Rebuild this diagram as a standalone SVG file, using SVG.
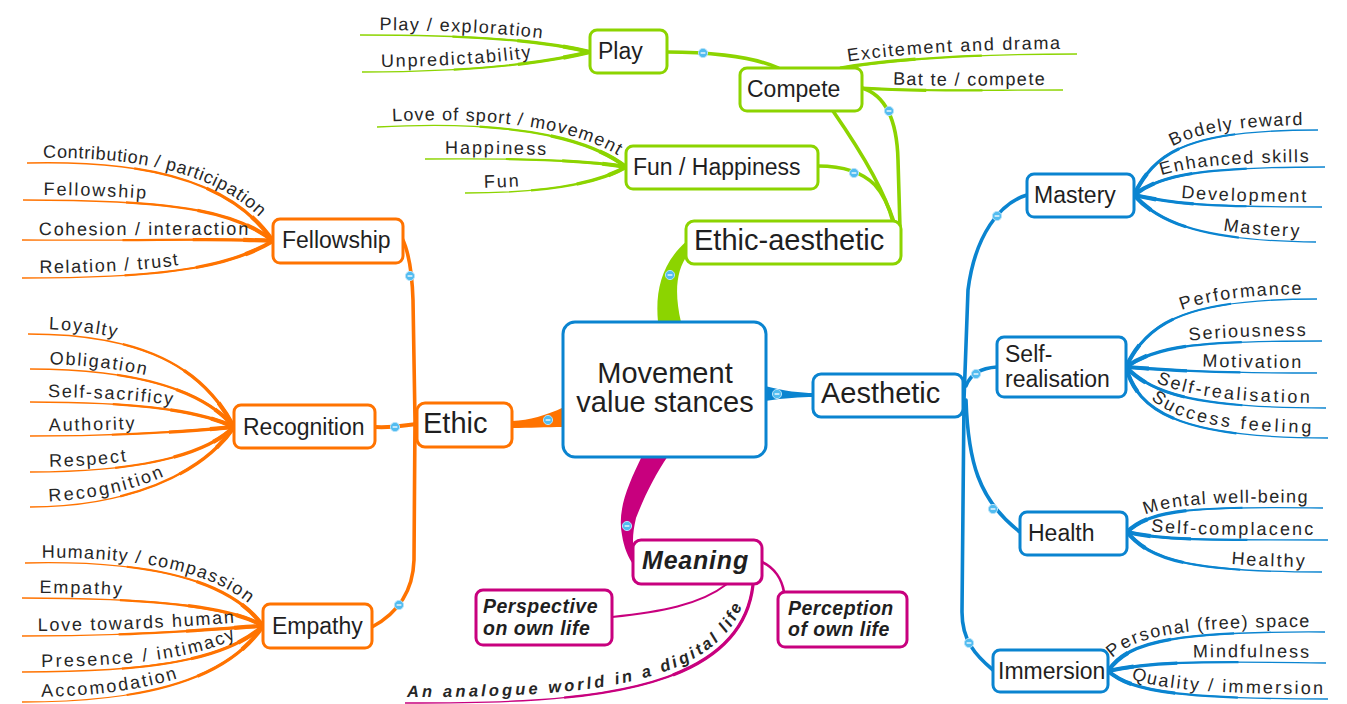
<svg xmlns="http://www.w3.org/2000/svg" xmlns:xlink="http://www.w3.org/1999/xlink" width="1347" height="704" viewBox="0 0 1347 704">
<style>
  text{font-family:"Liberation Sans",Arial,Helvetica,sans-serif;fill:#1f1f1f}
  .lf text{font-size:18px;fill:#262626}
  .n2{font-size:23px}
  .n1{font-size:29px}
  .bi{font-weight:bold;font-style:italic}
  .bx{fill:#fff;stroke-width:3}
  .cg{stroke:#8cd400;fill:none}
  .co{stroke:#ff7300;fill:none}
  .cb{stroke:#0a84d0;fill:none}
  .cm{stroke:#c8007e;fill:none}
  .fg{fill:#8cd400}.fo{fill:#ff7300}.fb{fill:#0a84d0}.fm{fill:#c8007e}
  .t1{stroke-width:1.3}
  .l2{stroke-width:2.2;stroke-dasharray:0 40 60 0}
  .l3{stroke-width:3.2;stroke-dasharray:0 68 32 0}
  .l4{stroke-width:4.2;stroke-dasharray:0 88 12 0}
  .r2{stroke-width:2.2;stroke-dasharray:60 40}
  .r3{stroke-width:3.2;stroke-dasharray:32 68}
  .r4{stroke-width:4.2;stroke-dasharray:12 88}
  .tr{stroke-width:3.6;stroke-linecap:round}
</style>
<defs>
  <!-- leaf branches on the left run from the free end to the parent node -->
  <g id="leaves-green-left">
    <path id="gl1" pathLength="100" d="M360 35 C470 35 540 40 590 52"/>
    <path id="gl2" pathLength="100" d="M362 72 C470 72 540 64 590 52"/>
    <path id="gl3" pathLength="100" d="M377 127 C500 120 585 135 626 167"/>
    <path id="gl4" pathLength="100" d="M425 159 C520 158 585 160 626 167"/>
    <path id="gl5" pathLength="100" d="M465 193 C540 193 595 185 626 167"/>
  </g>
  <!-- leaf branches on the right run from the parent node to the free end -->
  <g id="leaves-green-right">
    <path id="gr1" pathLength="100" d="M840 68 C900 58 980 54 1077 54"/>
    <path id="gr2" pathLength="100" d="M862 88 C920 92 980 90 1063 90"/>
  </g>
  <g id="leaves-orange">
    <path id="ol1" pathLength="100" d="M27 163 C150 160 232 182 273 241"/>
    <path id="ol2" pathLength="100" d="M23 200 C160 200 232 208 273 241"/>
    <path id="ol3" pathLength="100" d="M22 240 C150 241 222 238 273 241"/>
    <path id="ol4" pathLength="100" d="M22 278 C150 278 225 270 273 241"/>
    <path id="ol5" pathLength="100" d="M28 334 C150 334 205 372 234 427"/>
    <path id="ol6" pathLength="100" d="M30 369 C140 369 205 392 234 427"/>
    <path id="ol7" pathLength="100" d="M30 402 C140 402 200 411 234 427"/>
    <path id="ol8" pathLength="100" d="M30 436 C140 436 200 430 234 427"/>
    <path id="ol9" pathLength="100" d="M30 472 C140 472 205 455 234 427"/>
    <path id="ol10" pathLength="100" d="M30 507 C120 507 200 478 234 427"/>
    <path id="ol11" pathLength="100" d="M25 563 C150 560 230 580 263 626"/>
    <path id="ol12" pathLength="100" d="M22 598 C150 598 230 606 263 626"/>
    <path id="ol13" pathLength="100" d="M22 636 C150 636 222 628 263 626"/>
    <path id="ol14" pathLength="100" d="M22 672 C150 672 225 660 263 626"/>
    <path id="ol15" pathLength="100" d="M22 702 C140 702 225 682 263 626"/>
  </g>
  <g id="leaves-blue">
    <path id="br1" pathLength="100" d="M1134 195 C1156 150 1190 130 1318 130"/>
    <path id="br2" pathLength="100" d="M1134 195 C1160 175 1200 167 1325 167"/>
    <path id="br3" pathLength="100" d="M1134 195 C1170 203 1200 207 1322 207"/>
    <path id="br4" pathLength="100" d="M1134 195 C1158 222 1200 241 1316 242"/>
    <path id="br5" pathLength="100" d="M1126 367 C1148 320 1190 299 1317 299"/>
    <path id="br6" pathLength="100" d="M1126 367 C1158 345 1200 341 1322 341"/>
    <path id="br7" pathLength="100" d="M1126 367 C1170 370 1200 373 1317 373"/>
    <path id="br8" pathLength="100" d="M1126 367 C1150 392 1190 408 1326 408"/>
    <path id="br9" pathLength="100" d="M1126 367 C1138 412 1180 438 1328 438"/>
    <path id="br10" pathLength="100" d="M1127 532 C1150 510 1190 506 1323 508"/>
    <path id="br11" pathLength="100" d="M1127 532 C1160 540 1200 540 1328 540"/>
    <path id="br12" pathLength="100" d="M1127 532 C1150 560 1190 572 1322 572"/>
    <path id="br13" pathLength="100" d="M1108 671 C1128 642 1170 631 1325 632"/>
    <path id="br14" pathLength="100" d="M1108 671 C1150 662 1190 661 1326 663"/>
    <path id="br15" pathLength="100" d="M1108 671 C1130 690 1170 699 1328 699"/>
  </g>
  <g id="leaves-magenta">
    <path id="ml1" pathLength="100" d="M405 703 C560 703 740 700 753 585"/>
  </g>
  <!-- collapse handle -->
  <g id="dot">
    <circle r="4.6" fill="#52bcf0" stroke="#b4e2fa" stroke-width="1"/>
    <line x1="-2.4" y1="0" x2="2.4" y2="0" stroke="#ffffff" stroke-width="1.3"/>
  </g>
</defs>
<rect width="1347" height="704" fill="#ffffff"/>

<g id="connectors">
  <!-- tapered leaf strokes -->
  <use href="#leaves-green-left" class="cg t1"/>
  <use href="#leaves-green-left" class="cg l2"/>
  <use href="#leaves-green-left" class="cg l3"/>
  <use href="#leaves-green-left" class="cg l4"/>
  <use href="#leaves-green-right" class="cg t1"/>
  <use href="#leaves-green-right" class="cg r2"/>
  <use href="#leaves-green-right" class="cg r3"/>
  <use href="#leaves-orange" class="co t1"/>
  <use href="#leaves-orange" class="co l2"/>
  <use href="#leaves-orange" class="co l3"/>
  <use href="#leaves-orange" class="co l4"/>
  <use href="#leaves-blue" class="cb t1"/>
  <use href="#leaves-blue" class="cb r2"/>
  <use href="#leaves-blue" class="cb r3"/>
  <use href="#leaves-blue" class="cb r4"/>
  <use href="#leaves-magenta" class="cm t1"/>
  <use href="#leaves-magenta" class="cm l2"/>
  <use href="#leaves-magenta" class="cm l3"/>

  <!-- green branch -->
  <path class="cg tr" d="M667 52 C700 52 750 55 778 68"/>
  <path class="cg tr" d="M833 111 C860 150 885 190 893 222"/>
  <path class="cg tr" d="M862 88 C885 95 897 120 898 160 L900 228"/>
  <path class="cg tr" d="M818 166 C840 166 860 170 875 185 C885 196 890 210 894 222"/>
  <path class="fg" d="M658 322 C655 290 662 262 688 240 L690 252 C676 268 674 292 681 322 Z"/>

  <!-- orange branch -->
  <path class="co tr" d="M402 238 C408 250 412 270 413 300 L415 420 L414 560 C413 590 400 612 372 627"/>
  <path class="co" stroke-width="4" d="M375 427 C395 428 405 425 417 424"/>
  <path class="fo" d="M512 421 C530 420 545 416 564 407 L564 427 C545 427 530 428 512 428 Z"/>

  <!-- blue branch -->
  <path class="cb tr" d="M1027 195 C1000 203 975 235 968 290 L964 400 L962 612 C962 640 975 655 993 670"/>
  <path class="cb tr" d="M966 386 C970 375 980 368 997 367"/>
  <path class="cb tr" d="M966 400 C968 460 978 500 1020 532"/>
  <path class="fb" d="M765 386 C785 391 800 393 814 393 L814 397 C800 397 785 398 765 401 Z"/>

  <!-- magenta branch -->
  <path class="fm" d="M642 456 C628 485 617 510 622 535 C624 548 628 557 634 566 L636 556 C632 547 632 535 636 518 C645 495 655 475 668 456 Z"/>
  <path class="cm" stroke-width="2" d="M612 617 C660 612 700 605 727 584"/>
  <path class="cm" stroke-width="2.6" d="M762 562 C775 568 782 580 784 592"/>

  <!-- collapse handles -->
  <use href="#dot" x="703" y="53"/>
  <use href="#dot" x="889" y="111"/>
  <use href="#dot" x="854" y="173"/>
  <use href="#dot" x="670" y="275"/>
  <use href="#dot" x="410" y="276"/>
  <use href="#dot" x="395" y="427"/>
  <use href="#dot" x="399" y="605"/>
  <use href="#dot" x="548" y="420"/>
  <use href="#dot" x="777" y="394"/>
  <use href="#dot" x="997" y="216"/>
  <use href="#dot" x="976" y="374"/>
  <use href="#dot" x="993" y="509"/>
  <use href="#dot" x="969" y="643"/>
  <use href="#dot" x="627" y="526"/>
</g>

<g id="leaf-topics" class="lf">
  <!-- left side: text starts near the free end -->
  <text dy="-5"><textPath href="#gl1" startOffset="8.4%" textLength="162" lengthAdjust="spacing">Play / exploration</textPath></text>
  <text dy="-5"><textPath href="#gl2" startOffset="8.3%" textLength="151" lengthAdjust="spacing">Unpredictability</textPath></text>
  <text dy="-5"><textPath href="#gl3" startOffset="6%" textLength="228" lengthAdjust="spacing">Love of sport / movement</textPath></text>
  <text dy="-5"><textPath href="#gl4" startOffset="9.8%" textLength="101" lengthAdjust="spacing">Happiness</textPath></text>
  <text dy="-5"><textPath href="#gl5" startOffset="11.6%" textLength="35" lengthAdjust="spacing">Fun</textPath></text>

  <text dy="-5"><textPath href="#ol1" startOffset="6%" textLength="226" lengthAdjust="spacing">Contribution / participation</textPath></text>
  <text dy="-5"><textPath href="#ol2" startOffset="7.9%" textLength="102" lengthAdjust="spacing">Fellowship</textPath></text>
  <text dy="-5"><textPath href="#ol3" startOffset="6.7%" textLength="209" lengthAdjust="spacing">Cohesion / interaction</textPath></text>
  <text dy="-5"><textPath href="#ol4" startOffset="6.8%" textLength="140" lengthAdjust="spacing">Relation / trust</textPath></text>
  <text dy="-5"><textPath href="#ol5" startOffset="8.6%" textLength="67" lengthAdjust="spacing">Loyalty</textPath></text>
  <text dy="-5"><textPath href="#ol6" startOffset="8.8%" textLength="96" lengthAdjust="spacing">Obligation</textPath></text>
  <text dy="-5"><textPath href="#ol7" startOffset="8.6%" textLength="124" lengthAdjust="spacing">Self-sacrificy</textPath></text>
  <text dy="-5"><textPath href="#ol8" startOffset="9.2%" textLength="86" lengthAdjust="spacing">Authority</textPath></text>
  <text dy="-5"><textPath href="#ol9" startOffset="9%" textLength="78" lengthAdjust="spacing">Respect</textPath></text>
  <text dy="-5"><textPath href="#ol10" startOffset="8.4%" textLength="120" lengthAdjust="spacing">Recognition</textPath></text>
  <text dy="-5"><textPath href="#ol11" startOffset="6.6%" textLength="212" lengthAdjust="spacing">Humanity / compassion</textPath></text>
  <text dy="-5"><textPath href="#ol12" startOffset="7.1%" textLength="82" lengthAdjust="spacing">Empathy</textPath></text>
  <text dy="-5"><textPath href="#ol13" startOffset="6.5%" textLength="197" lengthAdjust="spacing">Love towards human</textPath></text>
  <text dy="-5"><textPath href="#ol14" startOffset="7.7%" textLength="200" lengthAdjust="spacing">Presence / intimacy</textPath></text>
  <text dy="-5"><textPath href="#ol15" startOffset="7.4%" textLength="139" lengthAdjust="spacing">Accomodation</textPath></text>

  <!-- right side: text ends a little before the free end -->
  <text dy="-5" text-anchor="end"><textPath href="#gr1" startOffset="93%" textLength="212" lengthAdjust="spacing">Excitement and drama</textPath></text>
  <text dy="-5" text-anchor="end"><textPath href="#gr2" startOffset="91%" textLength="152" lengthAdjust="spacing">Bat te / compete</textPath></text>

  <text dy="-5" text-anchor="end"><textPath href="#br1" startOffset="92.6%" textLength="131" lengthAdjust="spacing">Bodely reward</textPath></text>
  <text dy="-5" text-anchor="end"><textPath href="#br2" startOffset="91.7%" textLength="147" lengthAdjust="spacing">Enhanced skills</textPath></text>
  <text dy="-5" text-anchor="end"><textPath href="#br3" startOffset="91.8%" textLength="126" lengthAdjust="spacing">Development</textPath></text>
  <text dy="-5" text-anchor="end"><textPath href="#br4" startOffset="91.2%" textLength="77" lengthAdjust="spacing">Mastery</textPath></text>
  <text dy="-5" text-anchor="end"><textPath href="#br5" startOffset="92.9%" textLength="120" lengthAdjust="spacing">Performance</textPath></text>
  <text dy="-5" text-anchor="end"><textPath href="#br6" startOffset="91.9%" textLength="116" lengthAdjust="spacing">Seriousness</textPath></text>
  <text dy="-5" text-anchor="end"><textPath href="#br7" startOffset="91.8%" textLength="99" lengthAdjust="spacing">Motivation</textPath></text>
  <text dy="-5" text-anchor="end"><textPath href="#br8" startOffset="92.3%" textLength="158" lengthAdjust="spacing">Self-realisation</textPath></text>
  <text dy="-5" text-anchor="end"><textPath href="#br9" startOffset="92.8%" textLength="170" lengthAdjust="spacing">Success feeling</textPath></text>
  <text dy="-5" text-anchor="end"><textPath href="#br10" startOffset="92.3%" textLength="162" lengthAdjust="spacing">Mental well-being</textPath></text>
  <text dy="-5" text-anchor="end"><textPath href="#br11" startOffset="92.7%" textLength="163" lengthAdjust="spacing">Self-complacenc</textPath></text>
  <text dy="-5" text-anchor="end"><textPath href="#br12" startOffset="91.6%" textLength="74" lengthAdjust="spacing">Healthy</textPath></text>
  <text dy="-5" text-anchor="end"><textPath href="#br13" startOffset="93.2%" textLength="200" lengthAdjust="spacing">Personal (free) space</textPath></text>
  <text dy="-5" text-anchor="end"><textPath href="#br14" startOffset="92.3%" textLength="116" lengthAdjust="spacing">Mindfulness</textPath></text>
  <text dy="-5" text-anchor="end"><textPath href="#br15" startOffset="97.9%" textLength="195" lengthAdjust="spacing">Quality / immersion</textPath></text>

  <text dy="-6" class="bi" style="font-size:16.5px"><textPath href="#ml1" startOffset="0.5%" textLength="372" lengthAdjust="spacing">An analogue world in a digital life</textPath></text>
</g>

<g id="node-central">
  <rect class="bx" x="563" y="322" width="203" height="135" rx="12" stroke="#0a84d0" stroke-width="4.5"/>
  <text class="n1" x="665" y="383" text-anchor="middle">Movement</text>
  <text class="n1" x="665" y="412" text-anchor="middle">value stances</text>
</g>
<g id="node-ethic-aesthetic">
  <rect class="bx" x="686" y="221" width="215" height="43" rx="8" stroke="#8cd400"/>
  <text class="n1" x="694" y="250">Ethic-aesthetic</text>
</g>
<g id="node-ethic">
  <rect class="bx" x="417" y="403" width="95" height="44" rx="8" stroke="#ff7300"/>
  <text class="n1" x="423" y="433">Ethic</text>
</g>
<g id="node-aesthetic">
  <rect class="bx" x="813" y="374" width="150" height="43" rx="8" stroke="#0a84d0"/>
  <text class="n1" x="821" y="403">Aesthetic</text>
</g>
<g id="node-meaning">
  <rect class="bx" x="633" y="540" width="129" height="44" rx="8" stroke="#c8007e"/>
  <text class="bi" font-size="25" letter-spacing="0.8" x="642" y="569">Meaning</text>
</g>
<g id="node-play">
  <rect class="bx" x="590" y="30" width="77" height="43" rx="7" stroke="#8cd400"/>
  <text class="n2" x="598" y="59">Play</text>
</g>
<g id="node-compete">
  <rect class="bx" x="740" y="68" width="122" height="43" rx="7" stroke="#8cd400"/>
  <text class="n2" x="747" y="97">Compete</text>
</g>
<g id="node-fun-happiness">
  <rect class="bx" x="626" y="146" width="192" height="43" rx="7" stroke="#8cd400"/>
  <text class="n2" x="633" y="175">Fun / Happiness</text>
</g>
<g id="node-fellowship">
  <rect class="bx" x="273" y="219" width="130" height="44" rx="7" stroke="#ff7300"/>
  <text class="n2" x="282" y="248">Fellowship</text>
</g>
<g id="node-recognition">
  <rect class="bx" x="234" y="405" width="141" height="43" rx="7" stroke="#ff7300"/>
  <text class="n2" x="243" y="435">Recognition</text>
</g>
<g id="node-empathy">
  <rect class="bx" x="263" y="604" width="109" height="44" rx="7" stroke="#ff7300"/>
  <text class="n2" x="272" y="634">Empathy</text>
</g>
<g id="node-mastery">
  <rect class="bx" x="1027" y="174" width="107" height="43" rx="7" stroke="#0a84d0"/>
  <text class="n2" x="1034" y="203">Mastery</text>
</g>
<g id="node-self-realisation">
  <rect class="bx" x="997" y="337" width="129" height="60" rx="7" stroke="#0a84d0"/>
  <text class="n2" x="1005" y="362">Self-</text>
  <text class="n2" x="1005" y="387">realisation</text>
</g>
<g id="node-health">
  <rect class="bx" x="1020" y="512" width="107" height="43" rx="7" stroke="#0a84d0"/>
  <text class="n2" x="1028" y="541">Health</text>
</g>
<g id="node-immersion">
  <rect class="bx" x="993" y="650" width="115" height="42" rx="7" stroke="#0a84d0"/>
  <text class="n2" x="998" y="679">Immersion</text>
</g>
<g id="node-perspective">
  <rect class="bx" x="476" y="590" width="136" height="55" rx="7" stroke="#c8007e"/>
  <text class="bi" font-size="19.5" letter-spacing="0.5" x="483" y="613">Perspective</text>
  <text class="bi" font-size="19.5" letter-spacing="0.5" x="483" y="635">on own life</text>
</g>
<g id="node-perception">
  <rect class="bx" x="778" y="592" width="129" height="55" rx="7" stroke="#c8007e"/>
  <text class="bi" font-size="19.5" letter-spacing="0.5" x="788" y="615">Perception</text>
  <text class="bi" font-size="19.5" letter-spacing="0.5" x="788" y="636">of own life</text>
</g>
</svg>
